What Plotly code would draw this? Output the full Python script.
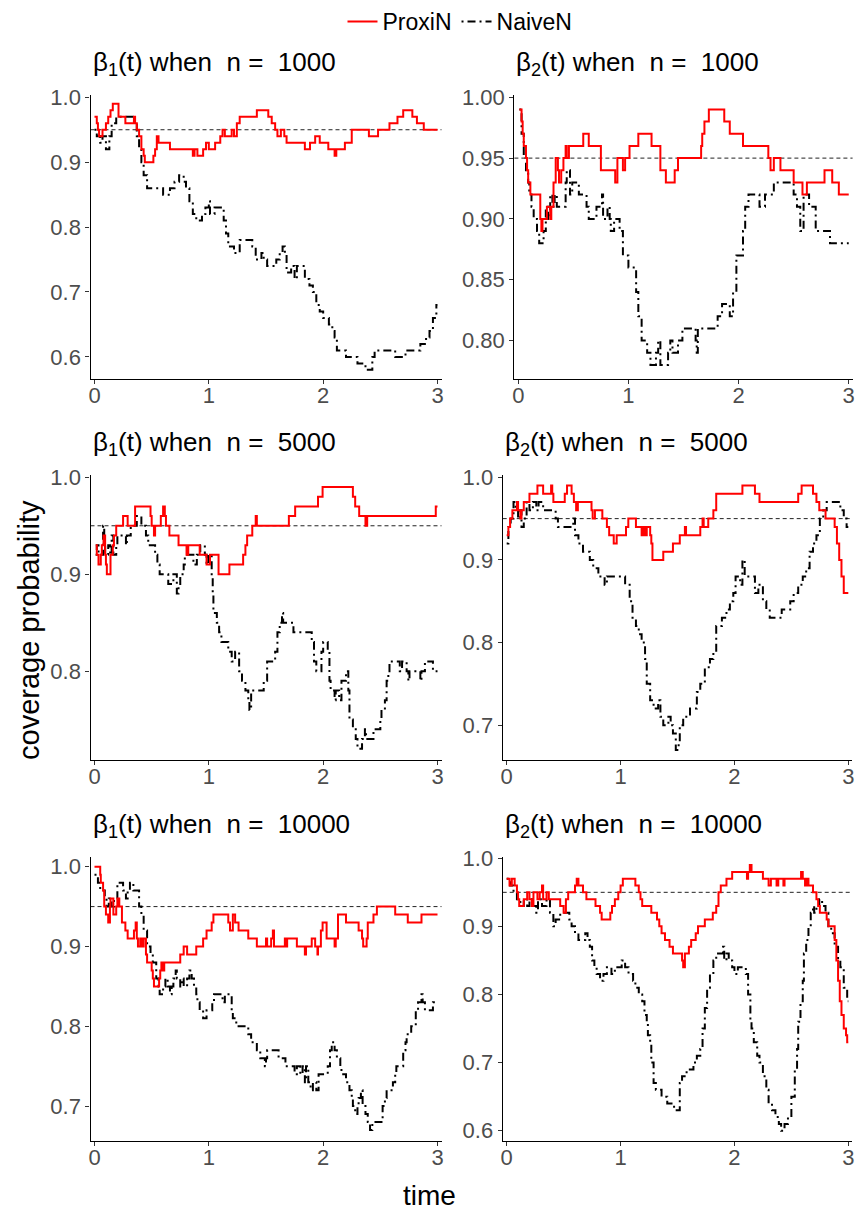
import plotly.graph_objects as go

# ---------------- data ----------------
NB = "\u00a0"
n_values = ["1000", "1000", "5000", "5000", "10000", "10000"]
beta_index = ["1", "2", "1", "2", "1", "2"]
titles = ["β<sub>" + bi + "</sub>(t) when" + NB + " n =" + NB + " " + nv
          for bi, nv in zip(beta_index, n_values)]
series_names = ["ProxiN", "NaiveN"]
x_ticks = [0, 1, 2, 3]
nominal_level = 0.95

# panel 1: beta1, n=1000
p1_prox_t = [0.00, 0.02, 0.03, 0.04, 0.07, 0.10, 0.12, 0.14, 0.16, 0.21, 0.27, 0.345, 0.355, 0.37, 0.39, 0.41, 0.43, 0.44,
             0.515, 0.53, 0.545, 0.56, 0.66, 0.86, 0.875, 0.90, 0.95, 0.975, 1.00, 1.055, 1.10, 1.12, 1.14, 1.20, 1.22,
             1.245, 1.27, 1.42, 1.52, 1.55, 1.58, 1.60, 1.63, 1.66, 1.68, 1.84, 1.885, 1.93, 1.97, 2.045, 2.10, 2.115,
             2.19, 2.25, 2.40, 2.48, 2.58, 2.65, 2.70, 2.78, 2.82, 2.88, 3.00]
p1_prox_v = [0.97, 0.96, 0.95, 0.94, 0.95, 0.96, 0.97, 0.98, 0.99, 0.97, 0.96, 0.97, 0.96, 0.95, 0.94, 0.92, 0.91, 0.90,
             0.91, 0.92, 0.94, 0.93, 0.92, 0.91, 0.92, 0.91, 0.92, 0.93, 0.92, 0.93, 0.94, 0.95, 0.94, 0.95, 0.94,
             0.96, 0.97, 0.98, 0.97, 0.96, 0.95, 0.94, 0.95, 0.94, 0.93, 0.92, 0.93, 0.94, 0.93, 0.92, 0.91, 0.92,
             0.93, 0.95, 0.94, 0.95, 0.96, 0.97, 0.98, 0.97, 0.96, 0.95, 0.95]
p1_naive_t = [0.00, 0.02, 0.05, 0.07, 0.10, 0.13, 0.15, 0.19, 0.345, 0.37, 0.39, 0.41, 0.43, 0.46, 0.60, 0.66, 0.70, 0.74,
              0.78, 0.80, 0.83, 0.86, 0.89, 0.94, 0.97, 1.00, 1.01, 1.05, 1.13, 1.15, 1.17, 1.22, 1.27, 1.38, 1.41, 1.46,
              1.48, 1.51, 1.59, 1.62, 1.645, 1.665, 1.68, 1.72, 1.75, 1.77, 1.84, 1.88, 1.91, 1.94, 1.97, 2.00, 2.05,
              2.08, 2.10, 2.12, 2.20, 2.30, 2.37, 2.43, 2.45, 2.63, 2.72, 2.85, 2.90, 2.93, 2.96, 2.99, 3.00]
p1_naive_v = [0.95, 0.94, 0.93, 0.94, 0.92, 0.94, 0.96, 0.97, 0.96, 0.94, 0.92, 0.90, 0.88, 0.86, 0.85, 0.86, 0.87, 0.88,
              0.87, 0.86, 0.84, 0.82, 0.81, 0.82, 0.83, 0.84, 0.82, 0.83, 0.81, 0.79, 0.77, 0.76, 0.78, 0.77, 0.75, 0.76,
              0.75, 0.74, 0.75, 0.76, 0.77, 0.76, 0.73, 0.74, 0.72, 0.74, 0.72, 0.71, 0.70, 0.68, 0.67, 0.66, 0.65,
              0.64, 0.63, 0.61, 0.60, 0.59, 0.58, 0.60, 0.61, 0.60, 0.61, 0.62, 0.63, 0.64, 0.66, 0.68, 0.68]

# panel 2: beta2, n=1000
p2_prox_t = [0.01, 0.03, 0.04, 0.05, 0.07, 0.08, 0.09, 0.11, 0.20, 0.21, 0.22, 0.26, 0.29, 0.30, 0.32, 0.34, 0.36, 0.37,
             0.39, 0.41, 0.43, 0.44, 0.46, 0.59, 0.64, 0.75, 0.88, 0.90, 0.95, 0.97, 1.01, 1.09, 1.21, 1.29, 1.34, 1.42,
             1.45, 1.66, 1.67, 1.69, 1.73, 1.87, 1.92, 2.04, 2.27, 2.29, 2.32, 2.38, 2.50, 2.58, 2.62, 2.78, 2.85, 2.91,
             3.00]
p2_prox_v = [0.99, 0.98, 0.97, 0.96, 0.95, 0.94, 0.93, 0.92, 0.90, 0.89, 0.90, 0.91, 0.90, 0.91, 0.93, 0.95, 0.94, 0.93,
             0.94, 0.95, 0.96, 0.95, 0.96, 0.97, 0.96, 0.94, 0.93, 0.95, 0.94, 0.95, 0.96, 0.97, 0.96, 0.94, 0.93, 0.94,
             0.95, 0.96, 0.97, 0.98, 0.99, 0.98, 0.97, 0.96, 0.95, 0.94, 0.95, 0.94, 0.93, 0.92, 0.93, 0.94, 0.93, 0.92,
             0.92]
p2_naive_t = [0.01, 0.03, 0.05, 0.07, 0.09, 0.10, 0.12, 0.14, 0.17, 0.19, 0.23, 0.25, 0.27, 0.29, 0.31, 0.33, 0.35, 0.43,
              0.44, 0.47, 0.49, 0.55, 0.62, 0.64, 0.71, 0.76, 0.77, 0.81, 0.83, 0.84, 0.87, 0.92, 0.95, 1.00, 1.07, 1.09,
              1.12, 1.17, 1.20, 1.25, 1.27, 1.29, 1.36, 1.38, 1.40, 1.45, 1.49, 1.61, 1.62, 1.63, 1.81, 1.85, 1.92, 1.95,
              1.98, 2.04, 2.06, 2.09, 2.19, 2.24, 2.32, 2.50, 2.53, 2.56, 2.59, 2.64, 2.70, 2.83, 3.00]
p2_naive_v = [0.99, 0.97, 0.95, 0.94, 0.93, 0.92, 0.91, 0.90, 0.89, 0.88, 0.89, 0.91, 0.90, 0.92, 0.91, 0.92, 0.91, 0.93,
              0.94, 0.92, 0.93, 0.92, 0.91, 0.90, 0.91, 0.92, 0.90, 0.91, 0.90, 0.89, 0.90, 0.89, 0.87, 0.86, 0.84, 0.82,
              0.80, 0.79, 0.78, 0.79, 0.80, 0.78, 0.79, 0.80, 0.79, 0.80, 0.81, 0.80, 0.79, 0.81, 0.82, 0.83, 0.82, 0.84,
              0.87, 0.89, 0.91, 0.92, 0.91, 0.92, 0.93, 0.92, 0.91, 0.89, 0.92, 0.91, 0.89, 0.88, 0.88]

# panel 3: beta1, n=5000
p3_prox_t = [0.01, 0.02, 0.035, 0.055, 0.064, 0.079, 0.093, 0.10, 0.108, 0.14, 0.16, 0.17, 0.19, 0.25, 0.29, 0.355, 0.49,
             0.50, 0.52, 0.53, 0.58, 0.60, 0.615, 0.625, 0.655, 0.735, 0.805, 0.82, 0.92, 0.98, 1.01, 1.085, 1.18, 1.30,
             1.32, 1.335, 1.38, 1.41, 1.42, 1.70, 1.755, 1.955, 1.995, 2.26, 2.28, 2.315, 2.37, 2.385, 2.985, 3.00]
p3_prox_v = [0.93, 0.92, 0.91, 0.92, 0.93, 0.94, 0.92, 0.91, 0.90, 0.92, 0.93, 0.94, 0.95, 0.96, 0.95, 0.97, 0.96,
             0.95, 0.94, 0.95, 0.96, 0.97, 0.96, 0.95, 0.94, 0.93, 0.92, 0.93, 0.92, 0.91, 0.92, 0.90, 0.91, 0.92,
             0.93, 0.94, 0.95, 0.96, 0.95, 0.96, 0.97, 0.98, 0.99, 0.98, 0.97, 0.96, 0.95, 0.96, 0.97, 0.97]
p3_naive_t = [0.01, 0.02, 0.035, 0.075, 0.085, 0.093, 0.12, 0.137, 0.15, 0.165, 0.19, 0.20, 0.275, 0.283, 0.317, 0.37,
              0.41, 0.45, 0.47, 0.53, 0.55, 0.57, 0.645, 0.69, 0.72, 0.735, 0.75, 0.78, 0.79, 0.865, 0.895, 0.925, 0.965,
              0.98, 0.995, 1.025, 1.034, 1.04, 1.07, 1.09, 1.11, 1.17, 1.20, 1.23, 1.265, 1.29, 1.32, 1.345, 1.355, 1.37,
              1.48, 1.51, 1.58, 1.60, 1.62, 1.64, 1.65, 1.74, 1.90, 1.92, 1.94, 1.985, 2.00, 2.04, 2.055, 2.065, 2.10,
              2.11, 2.14, 2.16, 2.20, 2.22, 2.23, 2.26, 2.285, 2.30, 2.34, 2.365, 2.375, 2.44, 2.50, 2.51, 2.54, 2.555,
              2.57, 2.58, 2.67, 2.69, 2.73, 2.745, 2.755, 2.85, 2.86, 2.89, 2.96, 3.00]
p3_naive_v = [0.92, 0.93, 0.92, 0.95, 0.93, 0.92, 0.93, 0.92, 0.94, 0.92, 0.93, 0.94, 0.93, 0.94, 0.95, 0.96,
              0.95, 0.94, 0.93, 0.92, 0.91, 0.90, 0.89, 0.90, 0.88, 0.89, 0.90, 0.91, 0.92, 0.91, 0.92, 0.93, 0.92,
              0.91, 0.92, 0.90, 0.88, 0.86, 0.85, 0.84, 0.83, 0.82, 0.81, 0.82, 0.80, 0.79, 0.78, 0.77, 0.76, 0.78,
              0.79, 0.81, 0.82, 0.84, 0.85, 0.86, 0.85, 0.84, 0.83, 0.81, 0.80, 0.82, 0.83, 0.82, 0.79, 0.78, 0.77,
              0.78, 0.77, 0.79, 0.80, 0.78, 0.75, 0.74, 0.73, 0.72, 0.73, 0.74, 0.73, 0.74, 0.75, 0.76, 0.77, 0.79,
              0.80, 0.81, 0.80, 0.81, 0.80, 0.79, 0.80, 0.79, 0.80, 0.81, 0.80, 0.80]

# panel 4: beta2, n=5000
p4_prox_t = [0.00, 0.015, 0.03, 0.05, 0.09, 0.10, 0.12, 0.13, 0.15, 0.20, 0.27, 0.32, 0.39, 0.40, 0.41, 0.51, 0.53, 0.57,
             0.59, 0.61, 0.625, 0.745, 0.755, 0.775, 0.84, 0.88, 0.90, 0.94, 0.966, 1.048, 1.068, 1.135, 1.185, 1.20,
             1.215, 1.23, 1.26, 1.27, 1.28, 1.375, 1.46, 1.52, 1.565, 1.575, 1.70, 1.72, 1.73, 1.77, 1.815, 1.84, 2.07,
             2.18, 2.22, 2.56, 2.59, 2.69, 2.72, 2.745, 2.80, 2.88, 2.90, 2.92, 2.94, 2.96, 3.00]
p4_prox_v = [0.93, 0.94, 0.95, 0.96, 0.97, 0.96, 0.95, 0.96, 0.97, 0.98, 0.99, 0.98, 0.99, 0.98, 0.97, 0.98, 0.99, 0.98,
             0.97, 0.96, 0.97, 0.96, 0.95, 0.96, 0.95, 0.94, 0.93, 0.92, 0.93, 0.94, 0.95, 0.94, 0.93, 0.94,
             0.93, 0.94, 0.93, 0.92, 0.90, 0.91, 0.92, 0.93, 0.94, 0.93, 0.94, 0.95, 0.94, 0.95, 0.96, 0.98, 0.99,
             0.98, 0.97, 0.98, 0.99, 0.98, 0.97, 0.96, 0.95, 0.94, 0.92, 0.90, 0.88, 0.86, 0.86]
p4_naive_t = [0.00, 0.015, 0.035, 0.06, 0.08, 0.10, 0.12, 0.13, 0.15, 0.175, 0.20, 0.23, 0.26, 0.28, 0.32, 0.43, 0.45,
              0.585, 0.60, 0.63, 0.67, 0.73, 0.76, 0.805, 0.86, 0.88, 1.04, 1.08, 1.105, 1.135, 1.16, 1.185, 1.215, 1.23,
              1.26, 1.29, 1.33, 1.35, 1.375, 1.42, 1.44, 1.46, 1.485, 1.51, 1.52, 1.55, 1.61, 1.67, 1.70, 1.74, 1.785,
              1.815, 1.84, 1.89, 1.93, 1.96, 1.99, 2.01, 2.05, 2.07, 2.09, 2.18, 2.21, 2.25, 2.28, 2.31, 2.415, 2.49,
              2.52, 2.56, 2.60, 2.63, 2.66, 2.69, 2.72, 2.75, 2.78, 2.81, 2.93, 2.96, 2.985, 3.00]
p4_naive_v = [0.92, 0.94, 0.95, 0.97, 0.96, 0.95, 0.96, 0.94, 0.95, 0.97, 0.96, 0.97, 0.96, 0.97, 0.96, 0.95, 0.94,
              0.95, 0.93, 0.92, 0.91, 0.90, 0.89, 0.88, 0.87, 0.88, 0.87, 0.85, 0.83, 0.82, 0.81, 0.80, 0.78, 0.75,
              0.73, 0.72, 0.73, 0.71, 0.70, 0.71, 0.70, 0.69, 0.67, 0.68, 0.70, 0.71, 0.72, 0.74, 0.75, 0.77, 0.78,
              0.79, 0.82, 0.83, 0.84, 0.85, 0.86, 0.88, 0.87, 0.90, 0.88, 0.86, 0.87, 0.85, 0.84, 0.83, 0.84, 0.85,
              0.86, 0.87, 0.88, 0.89, 0.91, 0.92, 0.93, 0.95, 0.96, 0.97, 0.96, 0.95, 0.94, 0.94]

# panel 5: beta1, n=10000
p5_prox_t = [0.00, 0.05, 0.055, 0.075, 0.085, 0.10, 0.12, 0.135, 0.14, 0.165, 0.19, 0.20, 0.217, 0.24, 0.27, 0.29, 0.345,
             0.36, 0.37, 0.38, 0.40, 0.415, 0.43, 0.45, 0.46, 0.50, 0.51, 0.52, 0.565, 0.575, 0.585, 0.595, 0.61, 0.75,
             0.78, 0.81, 0.89, 0.95, 0.98, 1.025, 1.04, 1.17, 1.185, 1.21, 1.23, 1.26, 1.345, 1.42, 1.50, 1.51, 1.545,
             1.56, 1.57, 1.665, 1.675, 1.685, 1.77, 1.84, 1.85, 1.90, 1.93, 1.95, 1.955, 1.98, 1.995, 2.03, 2.10, 2.11,
             2.13, 2.20, 2.31, 2.34, 2.35, 2.38, 2.39, 2.44, 2.47, 2.63, 2.74, 2.86, 3.00]
p5_prox_v = [1.00, 0.99, 0.98, 0.97, 0.95, 0.94, 0.93, 0.95, 0.96, 0.94, 0.95, 0.96, 0.95, 0.93, 0.92, 0.91, 0.92,
             0.93, 0.91, 0.90, 0.91, 0.90, 0.91, 0.89, 0.88, 0.87, 0.86, 0.85, 0.86, 0.87, 0.88, 0.87, 0.88, 0.89,
             0.90, 0.89, 0.90, 0.91, 0.92, 0.93, 0.94, 0.93, 0.92, 0.94, 0.93, 0.92, 0.91, 0.90, 0.91, 0.90, 0.91,
             0.92, 0.90, 0.91, 0.90, 0.91, 0.90, 0.89, 0.90, 0.91, 0.90, 0.89, 0.90, 0.92, 0.93, 0.91, 0.90, 0.91,
             0.94, 0.93, 0.92, 0.91, 0.90, 0.91, 0.93, 0.94, 0.95, 0.94, 0.93, 0.94, 0.94]
p5_naive_t = [0.00, 0.03, 0.05, 0.09, 0.105, 0.125, 0.15, 0.17, 0.20, 0.25, 0.275, 0.29, 0.31, 0.34, 0.39, 0.41, 0.43,
              0.46, 0.49, 0.51, 0.54, 0.56, 0.57, 0.60, 0.62, 0.64, 0.66, 0.675, 0.69, 0.71, 0.72, 0.75, 0.765, 0.78,
              0.81, 0.83, 0.85, 0.87, 0.89, 0.90, 0.92, 0.95, 0.98, 1.03, 1.045, 1.12, 1.14, 1.20, 1.21, 1.24, 1.345,
              1.37, 1.42, 1.45, 1.49, 1.50, 1.51, 1.61, 1.67, 1.75, 1.77, 1.80, 1.82, 1.84, 1.85, 1.87, 1.89, 1.91,
              1.94, 1.96, 2.04, 2.06, 2.075, 2.10, 2.12, 2.15, 2.16, 2.20, 2.23, 2.25, 2.26, 2.28, 2.30, 2.31, 2.33,
              2.345, 2.37, 2.39, 2.41, 2.43, 2.52, 2.54, 2.555, 2.61, 2.63, 2.64, 2.70, 2.72, 2.73, 2.77, 2.81, 2.83,
              2.86, 2.87, 2.89, 2.96, 3.00]
p5_naive_v = [0.99, 0.98, 0.97, 0.96, 0.95, 0.96, 0.95, 0.96, 0.98, 0.97, 0.96, 0.97, 0.98, 0.97, 0.95, 0.94, 0.92,
              0.90, 0.89, 0.88, 0.86, 0.85, 0.84, 0.85, 0.86, 0.85, 0.84, 0.85, 0.86, 0.87, 0.86, 0.85, 0.86, 0.85,
              0.86, 0.87, 0.86, 0.85, 0.84, 0.83, 0.82, 0.81, 0.82, 0.83, 0.84, 0.83, 0.84, 0.82, 0.81, 0.80, 0.79,
              0.78, 0.77, 0.76, 0.75, 0.76, 0.77, 0.76, 0.75, 0.74, 0.75, 0.74, 0.75, 0.73, 0.75, 0.73, 0.72, 0.73,
              0.72, 0.74, 0.75, 0.77, 0.78, 0.77, 0.76, 0.75, 0.74, 0.73, 0.72, 0.71, 0.70, 0.69, 0.70, 0.71, 0.72,
              0.70, 0.69, 0.68, 0.67, 0.68, 0.70, 0.71, 0.72, 0.73, 0.74, 0.75, 0.77, 0.78, 0.79, 0.80, 0.82, 0.83,
              0.84, 0.83, 0.82, 0.83, 0.83]

# panel 6: beta2, n=10000
p6_prox_t = [0.00, 0.025, 0.045, 0.07, 0.09, 0.10, 0.11, 0.15, 0.18, 0.20, 0.22, 0.235, 0.27, 0.29, 0.31, 0.32, 0.35,
             0.37, 0.47, 0.50, 0.52, 0.54, 0.60, 0.615, 0.63, 0.67, 0.70, 0.78, 0.82, 0.834, 0.91, 0.925, 0.95, 0.98,
             1.00, 1.02, 1.13, 1.16, 1.175, 1.19, 1.27, 1.32, 1.34, 1.36, 1.39, 1.43, 1.46, 1.54, 1.55, 1.565, 1.60,
             1.62, 1.66, 1.68, 1.74, 1.81, 1.84, 1.86, 1.88, 1.93, 1.98, 2.11, 2.12, 2.135, 2.15, 2.25, 2.30, 2.32,
             2.37, 2.385, 2.43, 2.44, 2.585, 2.60, 2.62, 2.635, 2.65, 2.69, 2.72, 2.735, 2.75, 2.81, 2.825, 2.88,
             2.895, 2.91, 2.925, 2.94, 2.96, 2.98, 2.99, 3.00]
p6_prox_v = [0.97, 0.96, 0.97, 0.96, 0.95, 0.94, 0.93, 0.94, 0.95, 0.94, 0.93, 0.95, 0.94, 0.95, 0.96, 0.94, 0.95,
             0.94, 0.93, 0.92, 0.94, 0.95, 0.96, 0.97, 0.96, 0.95, 0.94, 0.93, 0.92, 0.91, 0.92, 0.93, 0.94, 0.95,
             0.96, 0.97, 0.96, 0.95, 0.94, 0.93, 0.92, 0.91, 0.90, 0.89, 0.88, 0.87, 0.86, 0.85, 0.84, 0.86, 0.87,
             0.88, 0.89, 0.90, 0.91, 0.92, 0.93, 0.95, 0.96, 0.97, 0.98, 0.97, 0.98, 0.99, 0.98, 0.97, 0.96, 0.97,
             0.96, 0.97, 0.96, 0.97, 0.98, 0.97, 0.96, 0.97, 0.96, 0.95, 0.94, 0.93, 0.92, 0.91, 0.90, 0.88,
             0.85, 0.82, 0.79, 0.77, 0.75, 0.74, 0.73, 0.73]
p6_naive_t = [0.00, 0.03, 0.06, 0.09, 0.12, 0.15, 0.18, 0.20, 0.23, 0.26, 0.275, 0.31, 0.35, 0.38, 0.41, 0.43, 0.47,
              0.55, 0.57, 0.60, 0.63, 0.69, 0.71, 0.73, 0.75, 0.77, 0.79, 0.82, 0.85, 0.88, 0.92, 0.95, 1.01, 1.04,
              1.07, 1.11, 1.13, 1.16, 1.19, 1.21, 1.23, 1.24, 1.26, 1.27, 1.29, 1.31, 1.36, 1.41, 1.47, 1.52, 1.54,
              1.58, 1.64, 1.67, 1.70, 1.72, 1.74, 1.76, 1.785, 1.815, 1.84, 1.90, 1.91, 1.93, 1.95, 1.98, 2.00, 2.03,
              2.10, 2.12, 2.14, 2.15, 2.17, 2.20, 2.22, 2.25, 2.28, 2.30, 2.33, 2.36, 2.39, 2.41, 2.44, 2.47, 2.50,
              2.53, 2.55, 2.56, 2.58, 2.60, 2.61, 2.63, 2.65, 2.67, 2.69, 2.70, 2.72, 2.745, 2.77, 2.80, 2.825, 2.85,
              2.88, 2.91, 2.93, 2.96, 2.99, 3.00]
p6_naive_v = [0.97, 0.96, 0.95, 0.94, 0.93, 0.94, 0.93, 0.94, 0.93, 0.92, 0.94, 0.93, 0.94, 0.92, 0.90, 0.91, 0.92,
              0.91, 0.90, 0.89, 0.88, 0.89, 0.88, 0.87, 0.85, 0.84, 0.83, 0.82, 0.83, 0.84, 0.83, 0.84, 0.85, 0.84,
              0.83, 0.82, 0.81, 0.80, 0.79, 0.77, 0.76, 0.74, 0.73, 0.70, 0.67, 0.66, 0.65, 0.64, 0.63, 0.67, 0.68,
              0.69, 0.70, 0.71, 0.72, 0.75, 0.78, 0.81, 0.83, 0.85, 0.86, 0.87, 0.85, 0.86, 0.85, 0.84, 0.83, 0.84,
              0.83, 0.80, 0.76, 0.75, 0.73, 0.71, 0.70, 0.68, 0.66, 0.64, 0.63, 0.62, 0.61, 0.60, 0.61, 0.62, 0.65,
              0.69, 0.72, 0.76, 0.79, 0.82, 0.86, 0.88, 0.90, 0.92, 0.93, 0.92, 0.93, 0.94, 0.93, 0.92, 0.90, 0.89,
              0.87, 0.85, 0.84, 0.81, 0.79, 0.79]

prox_t = [p1_prox_t, p2_prox_t, p3_prox_t, p4_prox_t, p5_prox_t, p6_prox_t]
prox_v = [p1_prox_v, p2_prox_v, p3_prox_v, p4_prox_v, p5_prox_v, p6_prox_v]
naive_t = [p1_naive_t, p2_naive_t, p3_naive_t, p4_naive_t, p5_naive_t, p6_naive_t]
naive_v = [p1_naive_v, p2_naive_v, p3_naive_v, p4_naive_v, p5_naive_v, p6_naive_v]

y_ticks = [[0.6, 0.7, 0.8, 0.9, 1.0], [0.80, 0.85, 0.90, 0.95, 1.00], [0.8, 0.9, 1.0],
           [0.7, 0.8, 0.9, 1.0], [0.7, 0.8, 0.9, 1.0], [0.6, 0.7, 0.8, 0.9, 1.0]]
y_fmt = [".1f", ".2f", ".1f", ".1f", ".1f", ".1f"]

# ---------------- layout geometry (pixels) ----------------
W, H = 858, 1216
panel_px = [  # (left, right, top, bottom)
    (90.5, 441.5, 94.5, 378.5), (514.4, 852.6, 94.5, 378.5),
    (90.5, 441.5, 475.0, 759.5), (502.7, 852.3, 475.0, 759.5),
    (90.5, 441.5, 856.7, 1140.5), (502.7, 852.3, 856.7, 1140.5),
]
y_ranges = [(0.5667, 1.0043), (0.7688, 1.0023), (0.7088, 1.0024),
            (0.6584, 1.0028), (0.6569, 1.0125), (0.5856, 1.0023)]
x_range = (-0.035, 3.035)

RED = "#FF0000"
BLACK = "#000000"
FONT = "Liberation Sans, Arial, Helvetica, sans-serif"
TICK_GREY = "#4D4D4D"

fig = go.Figure()
layout = {}
for i in range(6):
    k = "" if i == 0 else str(i + 1)
    xa, ya = "x" + k, "y" + k
    l, r, t, b = panel_px[i]
    fig.add_trace(go.Scatter(
        x=naive_t[i], y=naive_v[i], xaxis=xa, yaxis=ya, mode="lines", line_shape="hv",
        name=series_names[1], legendgroup="naive", showlegend=(i == 0), legendrank=2,
        line=dict(color=BLACK, width=2, dash="2px,4px,8px,4px")))
    fig.add_trace(go.Scatter(
        x=prox_t[i], y=prox_v[i], xaxis=xa, yaxis=ya, mode="lines", line_shape="hv",
        name=series_names[0], legendgroup="prox", showlegend=(i == 0), legendrank=1,
        line=dict(color=RED, width=2)))
    common = dict(showgrid=False, zeroline=False, showline=True, linecolor=BLACK, linewidth=1.3,
                  ticks="outside", ticklen=4, tickwidth=1.1, tickcolor="#333333",
                  tickfont=dict(family=FONT, size=22, color=TICK_GREY), automargin=False)
    layout["xaxis" + k] = dict(domain=[l / W, r / W], range=list(x_range), anchor=ya,
                               tickmode="array", tickvals=x_ticks, ticklabelstandoff=-7, **common)
    layout["yaxis" + k] = dict(domain=[1 - b / H, 1 - t / H], range=list(y_ranges[i]), anchor=xa,
                               tickmode="array", tickvals=y_ticks[i], tickformat=y_fmt[i], **common)
    fig.add_shape(type="line", xref=xa + " domain", x0=0, x1=1, yref=ya, y0=nominal_level, y1=nominal_level,
                  line=dict(color="#222222", width=1, dash="4px,3px"), layer="below")
    fig.add_annotation(text=titles[i], xref="paper", yref="paper", x=l / W, y=1 - (t - 31) / H,
                       xanchor="left", yanchor="middle", showarrow=False,
                       font=dict(family=FONT, size=26, color=BLACK))

fig.add_annotation(text="coverage probability", xref="paper", yref="paper", x=29 / W, y=1 - 630 / H,
                   textangle=-90, xanchor="center", yanchor="middle", showarrow=False,
                   font=dict(family=FONT, size=29, color=BLACK))
fig.add_annotation(text="time", xref="paper", yref="paper", x=429 / W, y=1 - 1195 / H,
                   xanchor="center", yanchor="middle", showarrow=False,
                   font=dict(family=FONT, size=28, color=BLACK))

fig.update_layout(
    width=W, height=H, autosize=False, template="none",
    margin=dict(l=0, r=0, t=0, b=0), paper_bgcolor="white", plot_bgcolor="white",
    legend=dict(orientation="h", x=460 / W, xanchor="center", y=1.0, yanchor="top",
                font=dict(family=FONT, size=23, color=BLACK), bgcolor="rgba(0,0,0,0)",
                traceorder="normal", itemwidth=30),
    **layout)

fig.write_html("out.html")
